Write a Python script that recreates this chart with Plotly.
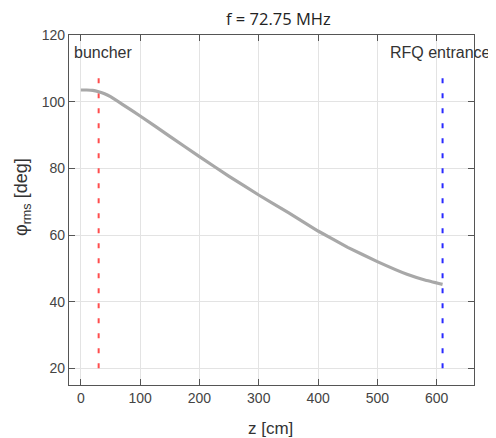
import plotly.graph_objects as go

# data
z_cm = [0, 10, 20, 30, 40, 50, 70, 100, 150, 200, 250, 300, 350, 400, 450, 500, 550, 580, 610]
phi_rms = [103.5, 103.5, 103.4, 103.0, 102.4, 101.5, 99.2, 95.7, 89.6, 83.5, 77.6, 72.0, 66.7, 61.2, 56.3, 52.0, 48.2, 46.5, 45.2]
buncher_z = 30
rfq_z = 610
marker_y = [20, 108]
x_ticks = [0, 100, 200, 300, 400, 500, 600]
y_ticks = [20, 40, 60, 80, 100, 120]

# page body has an 8px margin: figure starts at (8, 8) in the window
OFF = 8
W, H = 488, 430
L, R, T, B = 69 - OFF, 496 - 474, 35 - OFF, 438 - 385
pw, ph = W - L - R, H - T - B

def px(x):
    return (x - OFF - L) / pw

def py(y):
    return (H - B - (y - OFF)) / ph

fig = go.Figure()
fig.add_trace(go.Scatter(x=[buncher_z, buncher_z], y=marker_y, mode="lines",
                         line=dict(color="#ff4d4d", width=2, dash="5px,10px"), showlegend=False))
fig.add_trace(go.Scatter(x=[rfq_z, rfq_z], y=marker_y, mode="lines",
                         line=dict(color="#2a2aff", width=2, dash="5px,10px"), showlegend=False))
fig.add_trace(go.Scatter(x=z_cm, y=phi_rms, mode="lines",
                         line=dict(color="#a8a8a8", width=3.2, shape="spline", smoothing=0.3),
                         showlegend=False))

tickfont = dict(family="Liberation Sans, Arial, sans-serif", size=14, color="#444")
fig.update_xaxes(range=[-20, 663], tickvals=x_ticks, showgrid=True, gridcolor="#e3e3e3", gridwidth=1,
                 zeroline=False, showline=True, linecolor="#555", linewidth=1.2, mirror="ticks",
                 ticks="inside", ticklen=6, tickcolor="#555", tickfont=tickfont, automargin=False)
fig.update_yaxes(range=[15, 120], tickvals=y_ticks, showgrid=True, gridcolor="#e3e3e3", gridwidth=1,
                 zeroline=False, showline=True, linecolor="#555", linewidth=1.2, mirror="ticks",
                 ticks="inside", ticklen=6, tickcolor="#555", tickfont=tickfont, automargin=False)

txt = dict(family="Liberation Sans, Arial, sans-serif", size=16, color="#333")
fig.update_layout(
    width=W, height=H, margin=dict(l=L, r=R, t=T, b=B),
    paper_bgcolor="white", plot_bgcolor="white",
    annotations=[
        dict(text="f = 72.75 MHz", x=px(278), y=py(18), xref="paper", yref="paper",
             showarrow=False, xanchor="center", yanchor="middle",
             font=dict(family="Open Sans, Noto Sans, sans-serif", size=16.5, color="#222")),
        dict(text="buncher", x=px(72), y=py(53), xref="paper", yref="paper",
             showarrow=False, xanchor="left", yanchor="middle", font=txt),
        dict(text="RFQ entrance", x=px(493), y=py(53), xref="paper", yref="paper",
             showarrow=False, xanchor="right", yanchor="middle", font=txt),
        dict(text="z [cm]", x=px(270), y=py(428), xref="paper", yref="paper",
             showarrow=False, xanchor="center", yanchor="middle", font=dict(txt, size=17)),
        dict(text="φ<sub>rms</sub> [deg]", x=px(22), y=py(197), xref="paper", yref="paper",
             showarrow=False, xanchor="center", yanchor="middle", textangle=-90,
             font=dict(txt, size=18)),
    ],
)
fig.write_html("out.html")
